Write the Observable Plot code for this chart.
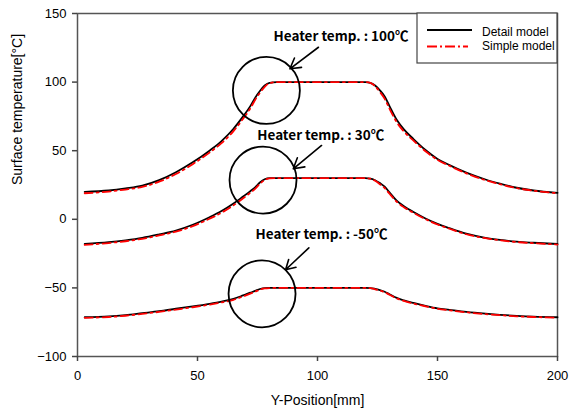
<!DOCTYPE html>
<html>
<head>
<meta charset="utf-8">
<script src="https://cdn.jsdelivr.net/npm/d3@7"></script>
<script src="https://cdn.jsdelivr.net/npm/@observablehq/plot@0.6"></script>
<style>
  html, body { margin: 0; padding: 0; background: #fff; }
  #chart { width: 576px; height: 412px; }
</style>
</head>
<body>
<div id="chart"></div>
<script>
// ---- data ----
const positions = [3, 13, 20, 27, 34, 41, 48, 55, 60, 65, 69, 72, 74, 76, 78, 80, 83, 100, 120, 122, 124, 126, 128, 130, 133, 136, 140, 145, 150, 155, 162, 170, 176, 183, 190, 200];

const detail100 = [20, 21, 22.5, 24.5, 28.5, 34.3, 41.5, 50, 57, 66, 75, 82.5, 88.5, 93.5, 97.5, 99.5, 100, 100, 100, 99.5, 97.5, 94, 89.5, 82.5, 72.5, 65.5, 58.5, 50.5, 44, 39.5, 34, 29, 26, 23, 21, 19.3];
const simple100 = [19, 20.2, 21.7, 23.6, 27.4, 33, 40.2, 48.6, 55.5, 64.3, 73.3, 80.8, 87, 92.2, 96.6, 99.2, 100, 100, 100, 99.4, 97, 92.8, 87.8, 80.6, 70.8, 64, 57.3, 49.6, 43.3, 39, 33.5, 28.5, 25.6, 22.7, 20.8, 19];

const detail30 = [-18, -16.7, -15.3, -13.5, -11, -8.2, -4, 1.5, 6, 11.5, 16.6, 20.5, 23.3, 26.8, 29.2, 30, 30, 30, 30, 29.7, 28.5, 26.4, 23.8, 19.6, 13.6, 9.5, 5.3, 0.6, -3.3, -6.5, -10.5, -13.5, -15, -16.3, -17.1, -18];
const simple30 = [-18.6, -17.3, -16, -14.2, -11.8, -9, -5, 0.4, 4.8, 10.2, 15.3, 19.3, 22.2, 25.8, 28.6, 29.8, 30, 30, 30, 29.6, 28.1, 25.6, 22.8, 18.6, 12.8, 8.8, 4.7, 0.1, -3.8, -6.9, -10.9, -13.8, -15.3, -16.6, -17.4, -18.4];

const detailM50 = [-71.4, -70.8, -69.8, -68.4, -67, -65.2, -63.5, -61.6, -60, -58, -55.5, -53.5, -52.2, -50.8, -50.1, -50, -50, -50, -50, -50.1, -50.7, -51.6, -52.8, -54.6, -57.3, -59.1, -61, -63.1, -64.9, -66, -67.5, -68.8, -69.6, -70.4, -71, -71.4];
const simpleM50 = [-71.8, -71.2, -70.3, -68.9, -67.5, -65.8, -64.1, -62.2, -60.6, -58.7, -56.2, -54.2, -52.8, -51.3, -50.4, -50.1, -50, -50, -50, -50.2, -51, -52, -53.2, -55, -57.7, -59.5, -61.4, -63.4, -65.2, -66.3, -67.8, -69.1, -69.9, -70.7, -71.2, -71.7];

const seriesNames = ["Detail model", "Simple model"];
const heaterTemps = [100, 30, -50];

const heaterLabels = ["Heater temp. : 100\u2103", "Heater temp. : 30\u2103", "Heater temp. : -50\u2103"];
const labelX = [81.7, 74.9, 74.2];
const labelY = [133.2, 61.1, -11.1];
const circleX = [78.7, 77.3, 76.9];
const circleY = [93.9, 28.6, -54.3];
const arrowFromX = [100.4, 101.7, 96.4];
const arrowFromY = [125.4, 53.8, -20.8];
const arrowToX = [88.5, 89.9, 86.7];
const arrowToY = [109.7, 36.8, -36.8];

const xTicks = [0, 50, 100, 150, 200];
const yTicks = [-100, -50, 0, 50, 100, 150];
const xLabel = "Y-Position[mm]";
const yLabel = "Surface temperature[\u00B0C]";

// ---- build tables ----
function rows(values, temp, model) {
  return positions.map((p, i) => ({x: p, y: values[i], heater: temp, model}));
}
const detailRows = [
  ...rows(detail100, heaterTemps[0], seriesNames[0]),
  ...rows(detail30, heaterTemps[1], seriesNames[0]),
  ...rows(detailM50, heaterTemps[2], seriesNames[0])
];
const simpleRows = [
  ...rows(simple100, heaterTemps[0], seriesNames[1]),
  ...rows(simple30, heaterTemps[1], seriesNames[1]),
  ...rows(simpleM50, heaterTemps[2], seriesNames[1])
];
const annot = heaterLabels.map((t, i) => ({
  text: t, lx: labelX[i], ly: labelY[i], cx: circleX[i], cy: circleY[i],
  x1: arrowFromX[i], y1: arrowFromY[i], x2: arrowToX[i], y2: arrowToY[i]
}));

const annFont = "'Noto Sans CJK KR', 'Noto Sans', sans-serif";

const svg = Plot.plot({
  width: 576,
  height: 412,
  marginLeft: 77,
  marginRight: 19,
  marginTop: 13,
  marginBottom: 56,
  style: {fontFamily: "'Liberation Sans', Arial, sans-serif", fontSize: "13px", color: "#000", background: "#fff"},
  x: {domain: [0, 200]},
  y: {domain: [-100, 150]},
  marks: [
    Plot.frame({stroke: "#555", strokeWidth: 1.5}),
    Plot.axisX({ticks: xTicks, tickSize: 5, tickPadding: 9, label: null, stroke: "#444", strokeWidth: 1.5, fontSize: 13}),
    Plot.axisY({ticks: yTicks, tickSize: 5, tickPadding: 6, label: null, stroke: "#444", strokeWidth: 1.5, fontSize: 13}),
    Plot.text([xLabel], {frameAnchor: "bottom", dy: 48, fontSize: 14}),
    Plot.text([yLabel], {frameAnchor: "left", dx: -60, rotate: -90, fontSize: 14}),
    Plot.line(detailRows, {x: "x", y: "y", z: "heater", stroke: "#000", strokeWidth: 1.8, curve: "monotone-x"}),
    Plot.line(simpleRows, {x: "x", y: "y", z: "heater", stroke: "#ff0000", strokeWidth: 1.8, strokeDasharray: "8,4,2,4", curve: "monotone-x"}),
    Plot.dot(annot, {x: "cx", y: "cy", r: 33.5, stroke: "#000", strokeWidth: 1.8, fill: "none"}),
    Plot.arrow(annot, {x1: "x1", y1: "y1", x2: "x2", y2: "y2", stroke: "#000", strokeWidth: 1.6, headLength: 11, bend: 0}),
    Plot.text(annot, {x: "lx", y: "ly", text: "text", textAnchor: "start", fontWeight: "bold", fontSize: 13.5, fontFamily: annFont, fill: "#000"})
  ]
});

// legend (box in upper right of plot)
const g = d3.select(svg).append("g").attr("text-anchor", "start");
g.append("rect").attr("x", 417).attr("y", 13).attr("width", 140).attr("height", 50)
  .attr("fill", "#fff").attr("stroke", "#444").attr("stroke-width", 1.2);
g.append("line").attr("x1", 427).attr("x2", 472).attr("y1", 30).attr("y2", 30)
  .attr("stroke", "#000").attr("stroke-width", 1.8);
g.append("line").attr("x1", 427).attr("x2", 468).attr("y1", 46.5).attr("y2", 46.5)
  .attr("stroke", "#ff0000").attr("stroke-width", 1.8).attr("stroke-dasharray", "10,3,2,3");
g.append("text").attr("x", 482).attr("y", 31.5).attr("dy", "0.35em").attr("font-size", 12).attr("text-anchor", "start").text(seriesNames[0]);
g.append("text").attr("x", 482).attr("y", 45.5).attr("dy", "0.35em").attr("font-size", 12).attr("text-anchor", "start").text(seriesNames[1]);

document.getElementById("chart").appendChild(svg);
</script>
</body>
</html>
